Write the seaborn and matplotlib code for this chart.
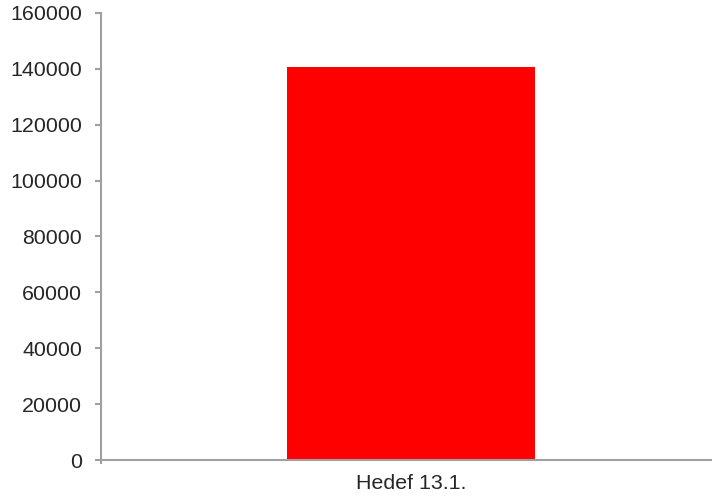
import matplotlib
matplotlib.use("Agg")
import matplotlib.pyplot as plt
import seaborn as sns
import pandas as pd

categories = ["Hedef 13.1."]
values = [140800]
y_ticks = [0, 20000, 40000, 60000, 80000, 100000, 120000, 140000, 160000]

sns.set_style("white")
plt.rcParams['font.family'] = ['Liberation Sans', 'DejaVu Sans']

data = pd.DataFrame({"hedef": categories, "deger": values})

fig = plt.figure(figsize=(7.12, 5.04), dpi=100)
ax = fig.add_axes([101 / 712, 44 / 504, 620 / 712, 447 / 504])

sns.barplot(x="hedef", y="deger", data=data, color="#ff0000", saturation=1,
            width=0.4, linewidth=0, ax=ax)

ax.set_xlim(-0.5, 0.5)
ax.set_ylim(0, 160000)
ax.set_yticks(y_ticks)
ax.set_yticklabels([str(t) for t in y_ticks])
ax.set_xlabel("")
ax.set_ylabel("")

axis_color = "#a0a0a4"
text_color = "#262626"
for side in ["top", "right"]:
    ax.spines[side].set_visible(False)
for side in ["left", "bottom"]:
    ax.spines[side].set_color(axis_color)
    ax.spines[side].set_linewidth(1.5)

ax.tick_params(axis="y", direction="out", length=4.5, width=1.5, color=axis_color,
               labelsize=15.4, labelcolor=text_color, pad=9, left=True)
ax.tick_params(axis="x", length=0, labelsize=15.4, labelcolor=text_color, pad=10)
ax.set_xticks([-0.5], minor=True)
ax.tick_params(axis="x", which="minor", direction="out", length=3, width=1.5,
               color=axis_color, bottom=True)

fig.savefig("out.png", dpi=100)
